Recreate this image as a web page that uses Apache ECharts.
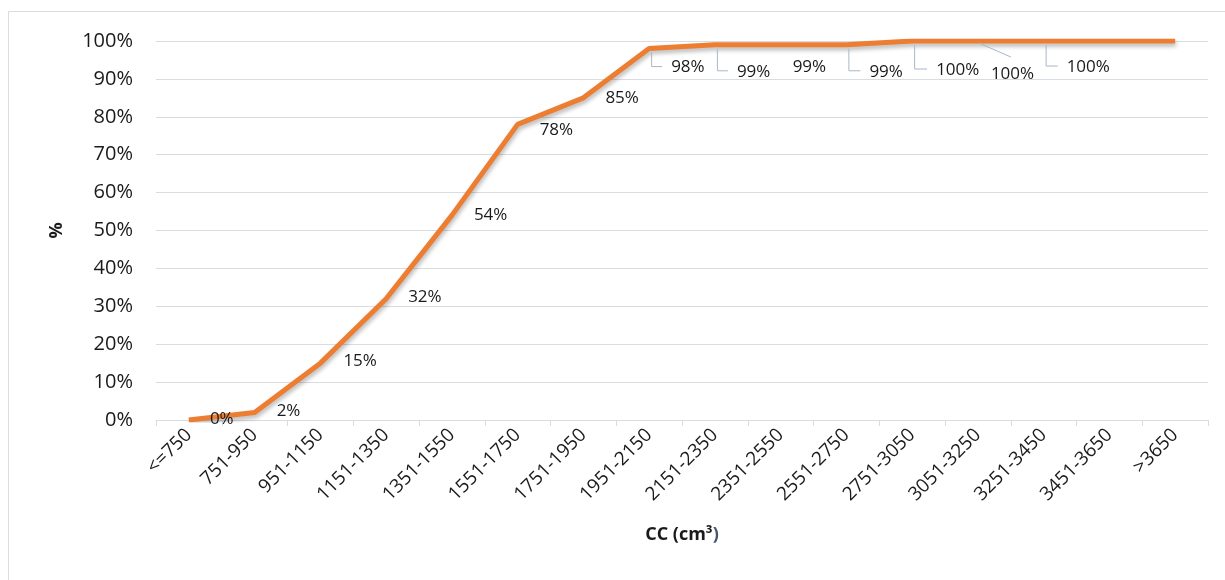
<!DOCTYPE html>
<html>
<head>
<meta charset="utf-8">
<title>Cumulative distribution by engine capacity</title>
<script src="https://cdn.jsdelivr.net/npm/echarts@6/dist/echarts.min.js"></script>
<style>
  html, body { margin: 0; padding: 0; background: #ffffff; }
  #chart { width: 1225px; height: 580px; }
</style>
</head>
<body>
<div id="chart"></div>
<script>
// Engine capacity classes (cm³)
const categories = [
  '<=750', '751-950', '951-1150', '1151-1350', '1351-1550', '1551-1750',
  '1751-1950', '1951-2150', '2151-2350', '2351-2550', '2551-2750',
  '2751-3050', '3051-3250', '3251-3450', '3451-3650', '>3650'
];

// Cumulative share of vehicles, in percent
const cumulativePct = [0, 2, 15, 32, 54, 78, 85, 98, 99, 99, 99, 100, 100, 100, 100, 100];

// Y-axis tick values (percent)
const yTicks = [0, 10, 20, 30, 40, 50, 60, 70, 80, 90, 100];

// Placement of each value label relative to its point:
// dx = gap to the label's left edge, dy = vertical shift of its centre,
// leader = connector style ('elbow', 'diag' or none). null = no label.
const labelPlacement = [
  { dx: 21, dy: -1 },
  { dx: 22, dy: -1 },
  { dx: 23, dy: -2 },
  { dx: 22, dy: -2 },
  { dx: 22, dy: 0 },
  { dx: 22, dy: 6 },
  { dx: 22, dy: 0 },
  { dx: 22, dy: 19, leader: 'elbow' },
  { dx: 22, dy: 27, leader: 'elbow' },
  { dx: 12, dy: 22 },
  { dx: 23, dy: 27, leader: 'elbow' },
  { dx: 24, dy: 29, leader: 'elbow' },
  { dx: 13, dy: 33, leader: 'diag' },
  { dx: 23, dy: 26, leader: 'elbow' },
  null,
  null
];

const FONT = '"Open Sans", "Noto Sans", "Liberation Sans", sans-serif';
const TEXT = '#1a1a1a';
const GRID = '#D9DCE2';
const LEADER = '#A9B6C8';
const LABEL_SIZE = 17;

const chart = echarts.init(document.getElementById('chart'), null, { renderer: 'canvas' });

// Draws one value label (and its connector, if any) next to its point
function renderValueLabel(params, api) {
  const place = labelPlacement[params.dataIndex];
  if (!place) return null;
  const v = api.value(1);
  const p = api.coord([api.value(0), v]);
  const left = p[0] + place.dx;
  const cy = p[1] + place.dy;
  const children = [{
    type: 'text',
    style: {
      x: left, y: cy, text: v + '%',
      fill: TEXT,
      font: LABEL_SIZE + 'px ' + FONT,
      textAlign: 'left', textVerticalAlign: 'middle'
    }
  }];
  if (place.leader === 'elbow') {
    children.push({
      type: 'polyline',
      shape: { points: [[p[0] + 2.5, p[1] + 4], [p[0] + 2.5, cy - 1], [left - 9, cy - 1]] },
      style: { stroke: LEADER, lineWidth: 1, fill: null }
    });
  } else if (place.leader === 'diag') {
    children.push({
      type: 'line',
      shape: { x1: p[0] + 1, y1: p[1] + 2, x2: left + 20, y2: cy - 17 },
      style: { stroke: LEADER, lineWidth: 1 }
    });
  }
  return { type: 'group', children: children };
}

const option = {
  animation: false,
  backgroundColor: '#ffffff',
  textStyle: { fontFamily: FONT },
  grid: { left: 156, right: 17, top: 41, bottom: 160, containLabel: false },
  graphic: [{
    type: 'rect',
    shape: { x: 8.5, y: 11.5, width: 1300, height: 700 },
    style: { fill: null, stroke: '#D9DCE2', lineWidth: 1 },
    silent: true,
    z: -10
  }],
  xAxis: {
    type: 'category',
    data: categories,
    boundaryGap: true,
    axisLine: { show: true, lineStyle: { color: GRID, width: 1 } },
    axisTick: { show: true, length: 6, alignWithLabel: false, lineStyle: { color: GRID } },
    axisLabel: {
      interval: 0, rotate: 45, margin: 12,
      fontSize: 19, color: TEXT, fontFamily: FONT
    },
    name: 'CC (cm³{p|)}',
    nameLocation: 'middle',
    nameGap: 106,
    nameTextStyle: {
      fontSize: 18, fontWeight: 'bold', color: TEXT, fontFamily: FONT,
      rich: { p: { fontSize: 18, fontWeight: 'bold', color: '#44546A', fontFamily: FONT } }
    }
  },
  yAxis: {
    type: 'value',
    min: yTicks[0],
    max: yTicks[yTicks.length - 1],
    interval: yTicks[1] - yTicks[0],
    axisLine: { show: false },
    axisTick: { show: false },
    splitLine: { show: true, lineStyle: { color: GRID, width: 1 } },
    axisLabel: {
      formatter: '{value}%', margin: 23,
      fontSize: 20, color: TEXT, fontFamily: FONT
    },
    name: '%',
    nameLocation: 'middle',
    nameGap: 90,
    nameTextStyle: { fontSize: 18, fontWeight: 'bold', color: TEXT, fontFamily: FONT }
  },
  series: [
    {
      name: 'Cumulative %',
      type: 'line',
      data: cumulativePct,
      symbol: 'none',
      lineStyle: {
        color: '#ED7D31', width: 5,
        shadowColor: 'rgba(0,0,0,0.28)', shadowBlur: 4,
        shadowOffsetX: 1, shadowOffsetY: 3
      },
      z: 3
    },
    {
      name: 'Value labels',
      type: 'custom',
      coordinateSystem: 'cartesian2d',
      data: cumulativePct.map((v, i) => [i, v]),
      encode: { x: 0, y: 1 },
      renderItem: renderValueLabel,
      clip: false,
      silent: true,
      z: 4
    }
  ]
};

chart.setOption(option);
</script>
</body>
</html>
